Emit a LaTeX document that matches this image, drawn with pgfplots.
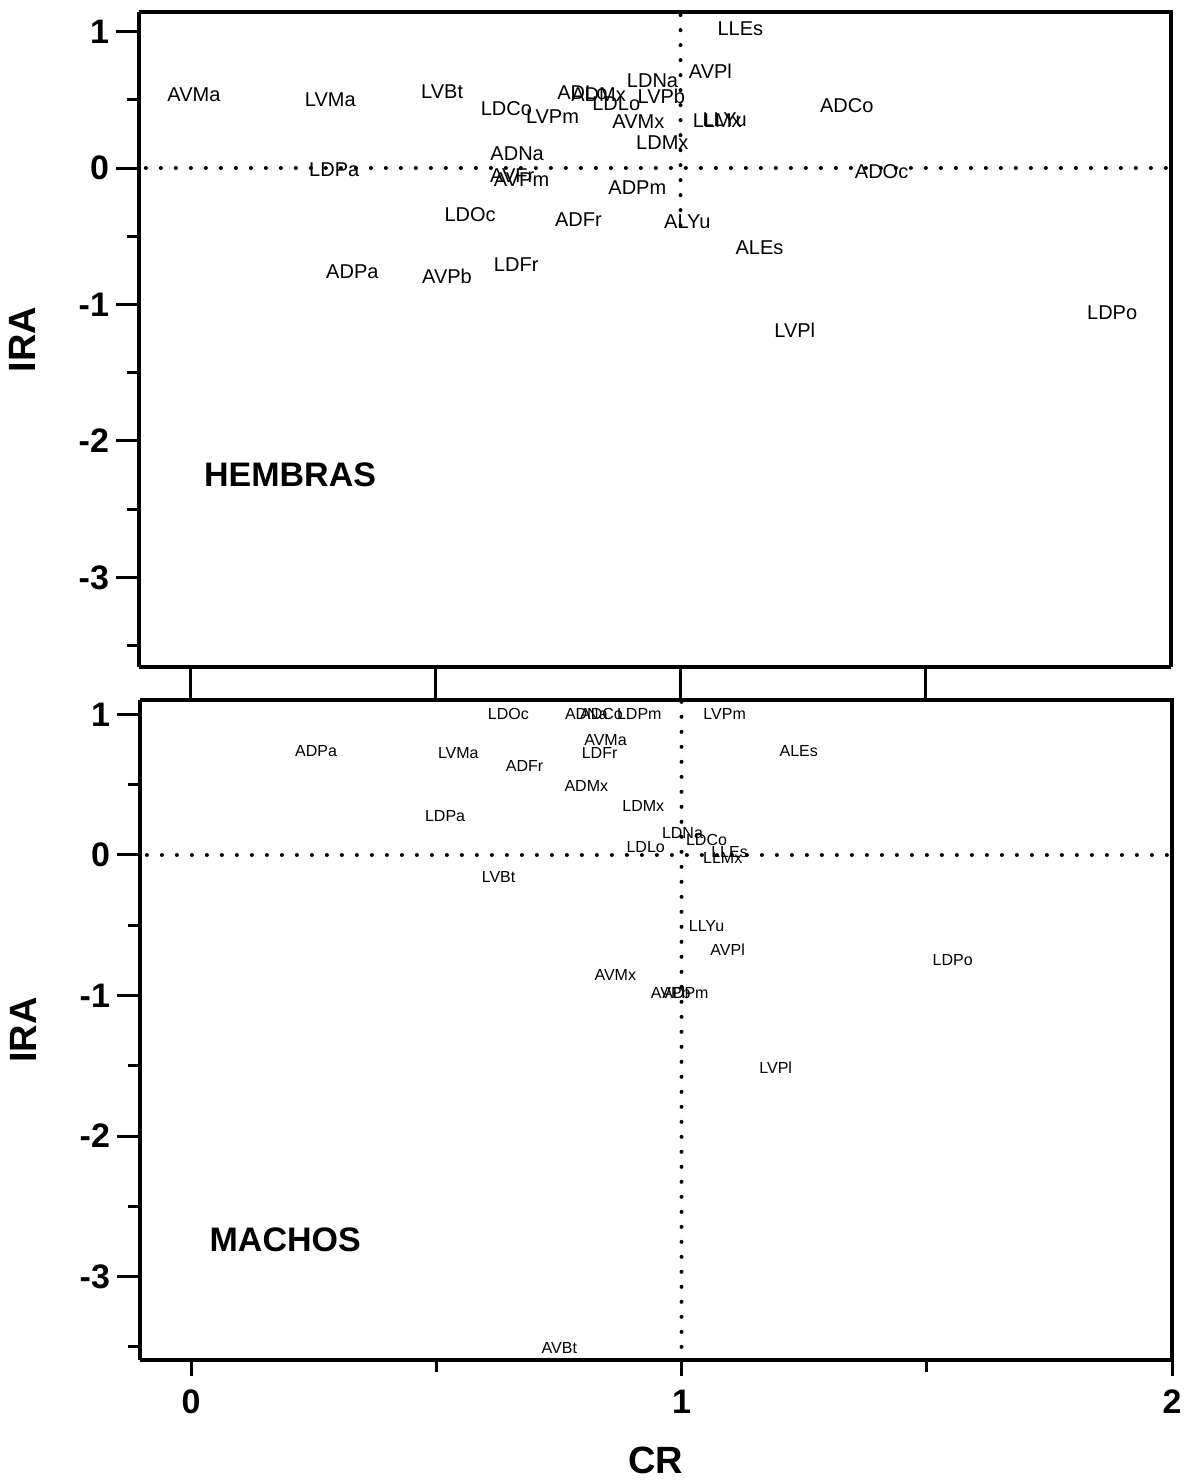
\documentclass[border=0pt]{standalone}
\usepackage{fontspec}
\setmainfont{Liberation Sans}
\usepackage{pgfplots}
\usepackage{pgfplotstable}
\pgfplotsset{compat=1.18}

\pgfplotstableread{
x y label
1.122 1.018 LLEs
0.008 0.535 AVMa
0.286 0.498 LVMa
0.514 0.557 LVBt
0.943 0.637 LDNa
1.061 0.711 AVPl
0.800 0.549 ADLo
0.833 0.540 ADMx
0.869 0.469 LDLo
0.961 0.527 LVPb
0.645 0.432 LDCo
0.739 0.374 LVPm
0.914 0.337 AVMx
1.075 0.344 LLMx
1.090 0.352 LLYu
1.339 0.454 ADCo
0.963 0.183 LDMx
0.667 0.103 ADNa
0.657 -0.059 AVFr
0.676 -0.088 AVPm
0.294 -0.015 LDPa
1.410 -0.030 ADOc
0.912 -0.147 ADPm
0.571 -0.344 LDOc
0.792 -0.381 ADFr
1.014 -0.396 ALYu
1.161 -0.586 ALEs
0.331 -0.762 ADPa
0.524 -0.791 AVPb
0.665 -0.711 LDFr
1.233 -1.187 LVPl
1.880 -1.062 LDPo
}\hembras

\pgfplotstableread{
x y label
0.647 1.004 LDOc
0.806 1.004 ADNa
0.837 1.004 ADCo
0.914 1.000 LDPm
1.088 1.000 LVPm
0.255 0.740 ADPa
0.545 0.726 LVMa
0.845 0.819 AVMa
0.833 0.726 LDFr
0.680 0.633 ADFr
1.239 0.740 ALEs
0.806 0.491 ADMx
0.922 0.349 LDMx
0.518 0.278 LDPa
1.002 0.157 LDNa
1.051 0.107 LDCo
0.927 0.057 LDLo
1.098 0.021 LLEs
1.084 -0.021 LLMx
0.627 -0.157 LVBt
1.051 -0.505 LLYu
1.094 -0.676 AVPl
1.553 -0.747 LDPo
0.865 -0.854 AVMx
0.978 -0.982 AVPb
1.008 -0.982 ADPm
1.192 -1.516 LVPl
0.751 -3.509 AVBt
}\machos

\pgfplotsset{
  panel/.style={
    scale only axis, width=516pt, clip=false,
    xmin=-0.104, xmax=2.0,
    axis line style={line width=2pt},
    tick align=outside,
    major tick style={line width=1.5pt, black},
    minor tick style={line width=1.5pt, black},
    ytick={-3,-2,-1,0,1},
    minor ytick={-3.5,-2.5,-1.5,-0.5,0.5},
    major tick length=11.5pt, minor tick length=6pt,
    /pgf/number format/assume math mode=true,
    ticklabel style={font=\bfseries\fontsize{17}{17}\selectfont},
    label style={font=\bfseries\fontsize{19}{19}\selectfont},
    ylabel={IRA},
    ylabel style={at={([xshift=-58.5pt]rel axis cs:0,0.5)}, anchor=center},
    axis x line*=bottom, axis y line*=left,
  },
  dots/.style={line width=2pt, dash pattern=on 0pt off 7.5pt, line cap=round, black},
}

\begin{document}
\begin{tikzpicture}
\useasboundingbox (0,0) rectangle (593.5pt,-741pt);

% HEMBRAS
\begin{axis}[panel, at={(69.5pt,-6pt)}, anchor=north west, height=327.5pt,
  ymin=-3.656, ymax=1.143,
  xtick={0,0.5,1,1.5}, xticklabels={}, minor xtick={},
  xtick style={/pgfplots/major tick length=16.5pt},
  ]
  \draw[line width=2pt] (rel axis cs:0,1) -- (rel axis cs:1,1) -- (rel axis cs:1,0);
  \addplot[dots] coordinates {(-0.09,0) (2.0,0)};
  \addplot[dots] coordinates {(1,1.12) (1,-0.5)};
  \addplot[draw=none, mark=none, nodes near coords, point meta=explicit symbolic,
    nodes near coords align={center},
    every node near coord/.append style={font=\fontsize{10}{10}\selectfont, inner sep=0pt}]
    table[x=x, y=y, meta=label] {\hembras};
  \node[font=\bfseries\fontsize{17}{17}\selectfont] at (axis cs:0.204,-2.249) {HEMBRAS};
\end{axis}

% MACHOS
\begin{axis}[panel, at={(70pt,-350pt)}, anchor=north west, height=330pt,
  ymin=-3.594, ymax=1.103,
  xtick={0,1,2}, minor xtick={0.5,1.5},
  xtick style={/pgfplots/major tick length=8pt, /pgfplots/minor tick length=6pt},
  xlabel={CR},
  xlabel style={at={([yshift=-50pt]rel axis cs:0.5,0)}, anchor=center},
  ]
  \draw[line width=2pt] (rel axis cs:0,1) -- (rel axis cs:1,1) -- (rel axis cs:1,0);
  \addplot[dots] coordinates {(-0.09,0) (2.0,0)};
  \addplot[dots] coordinates {(1,1.09) (1,-3.594)};
  \addplot[draw=none, mark=none, nodes near coords, point meta=explicit symbolic,
    nodes near coords align={center},
    every node near coord/.append style={font=\fontsize{8}{8}\selectfont, inner sep=0pt}]
    table[x=x, y=y, meta=label] {\machos};
  \node[font=\bfseries\fontsize{17}{17}\selectfont] at (axis cs:0.192,-2.740) {MACHOS};
\end{axis}
\end{tikzpicture}
\end{document}
